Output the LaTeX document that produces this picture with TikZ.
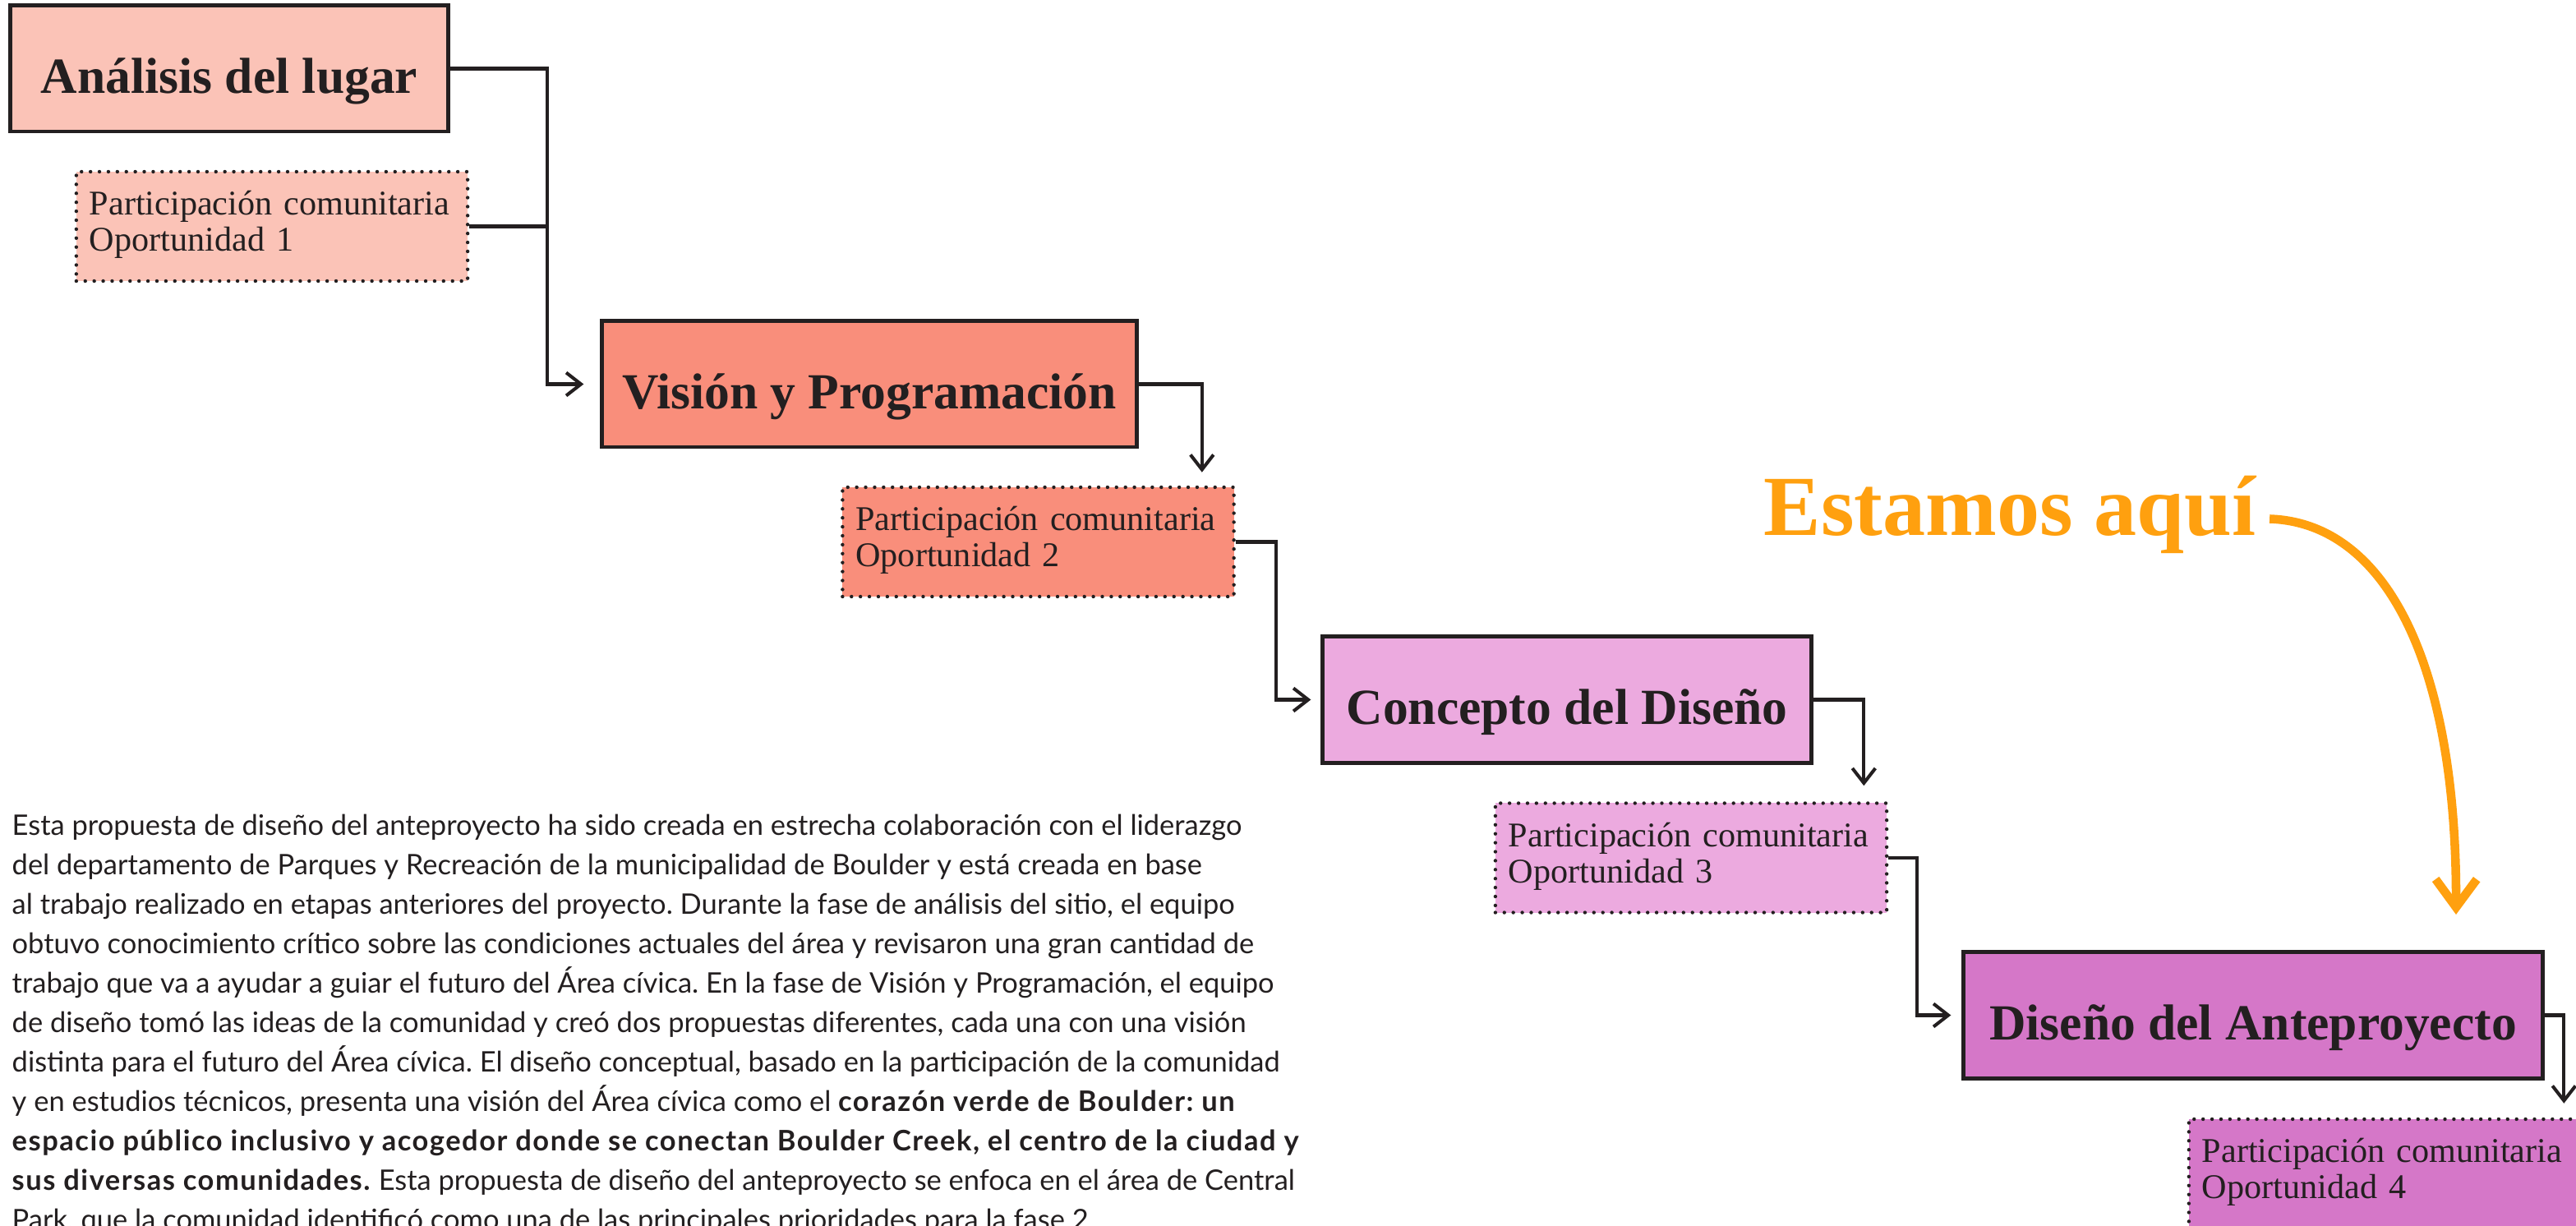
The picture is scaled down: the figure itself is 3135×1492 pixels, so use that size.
\documentclass[tikz,border=0pt]{standalone}
\usepackage{fontspec}
\setmainfont{Liberation Serif}
\newfontfamily\textofont{Lato}[BoldFeatures={LetterSpace=4.4}]
\usetikzlibrary {arrows.meta}
\usetikzlibrary {calc}

\definecolor{tinta}{HTML}{231F20}
\definecolor{lugarfill}{HTML}{FBC3B7}
\definecolor{visionfill}{HTML}{F98E7B}
\definecolor{conceptofill}{HTML}{ECAADF}
\definecolor{disenofill}{HTML}{D577C8}
\definecolor{naranja}{HTML}{FFA00F}

\begin{document}
\frenchspacing
\begin{tikzpicture}[x=0.01cm, y=-0.01cm,
    fase/.style={draw=tinta, line width=1.4pt, inner sep=0pt, minimum height=1.53cm,
        text=tinta, font=\fontsize{17.5}{20}\selectfont\bfseries, text height=19pt, text depth=2.2pt},
    oportunidad/.style={draw=tinta, line width=1.25pt, dash pattern=on 0pt off 3.1pt, line cap=round,
        text width=4.44cm, inner xsep=0.16cm, inner ysep=0pt, minimum height=1.33cm, align=left,
        text=tinta, font=\fontsize{12}{12.5}\selectfont, text height=8pt, text depth=15.7pt},
    linea/.style={draw=tinta, line width=1.15pt},
    flecha/.style={linea, -{Straight Barb[length=0.18cm, width=0.28cm]}},
    aqui/.style={draw=naranja, line width=3pt, -{Straight Barb[length=0.34cm, width=0.5cm]}},
]
    \useasboundingbox (0, 0) rectangle (3135, 1492);

    % fases y oportunidades
    \node[fase, fill=lugarfill, minimum width=5.32cm] (lugar) at (279, 83.5) {Análisis del lugar};
    \node[oportunidad, fill=lugarfill] (part1) at (331, 275.5) {Participación comunitaria\\Oportunidad 1};

    \node[fase, fill=visionfill, minimum width=6.5cm] (vision) at (1058, 467.5) {Visión y Programación};
    \node[oportunidad, fill=visionfill] (part2) at (1263.5, 659.5) {Participación comunitaria\\Oportunidad 2};

    \node[fase, fill=conceptofill, minimum width=5.94cm] (concepto) at (1907, 851.5) {Concepto del Diseño};
    \node[oportunidad, fill=conceptofill] (part3) at (2058, 1044) {Participación comunitaria\\Oportunidad 3};

    \node[fase, fill=disenofill, minimum width=7.04cm] (diseno) at (2742, 1235.5) {Diseño del Anteproyecto};
    \node[oportunidad, fill=disenofill] (part4) at (2902, 1428.5) {Participación comunitaria\\Oportunidad 4};

    % conexiones
    \coordinate (j1) at (666, 275.5);
    \draw[flecha, shorten >=0.2cm] (lugar.east) -| (j1) |- (vision.west);
    \draw[linea] (part1.east) -- (j1);

    \draw[flecha, shorten >=0.16cm] (vision.east) -| ([xshift=-0.41cm]part2.north east);
    \draw[flecha, shorten >=0.12cm] (part2.east) -- ++(49, 0) |- (concepto.west);

    \draw[flecha, shorten >=0.19cm] (concepto.east) -| ([xshift=-0.3cm]part3.north east);
    \draw[flecha, shorten >=0.13cm] (part3.east) -- ++(35, 0) |- (diseno.west);

    \draw[flecha, shorten >=0.17cm] (diseno.east) -| ([xshift=-0.22cm]part4.north east);

    % estamos aqui
    \node[anchor=base west, inner sep=0pt, text=naranja, font=\fontsize{29.6}{32}\selectfont\bfseries] (estamos) at (2146, 651.5) {Estamos aquí};
    \coordinate (aquitip) at (2989, 1113);
    \draw[aqui] ([xshift=0.16cm, yshift=0.2cm]estamos.base east) .. controls (2900, 636) and (2990, 800) .. (aquitip);

    % texto (la linea base del nodo es la ultima linea)
    \node[anchor=base west, inner sep=0pt, align=left, text=tinta,
        font=\textofont\fontsize{9.8}{13.66}\selectfont] (texto) at (14, 1497) {%
        Esta propuesta de diseño del anteproyecto ha sido creada en estrecha colaboración con el liderazgo\\
        del departamento de Parques y Recreación de la municipalidad de Boulder y está creada en base\\
        al trabajo realizado en etapas anteriores del proyecto. Durante la fase de análisis del sitio, el equipo\\
        obtuvo conocimiento crítico sobre las condiciones actuales del área y revisaron una gran cantidad de\\
        trabajo que va a ayudar a guiar el futuro del Área cívica. En la fase de Visión y Programación, el equipo\\
        de diseño tomó las ideas de la comunidad y creó dos propuestas diferentes, cada una con una visión\\
        distinta para el futuro del Área cívica. El diseño conceptual, basado en la participación de la comunidad\\
        y en estudios técnicos, presenta una visión del Área cívica como el \textbf{corazón verde de Boulder: un}\\
        \textbf{espacio público inclusivo y acogedor donde se conectan Boulder Creek, el centro de la ciudad y}\\
        \textbf{sus diversas comunidades.} Esta propuesta de diseño del anteproyecto se enfoca en el área de Central\\
        Park, que la comunidad identificó como una de las principales prioridades para la fase 2};
\end{tikzpicture}
\end{document}
